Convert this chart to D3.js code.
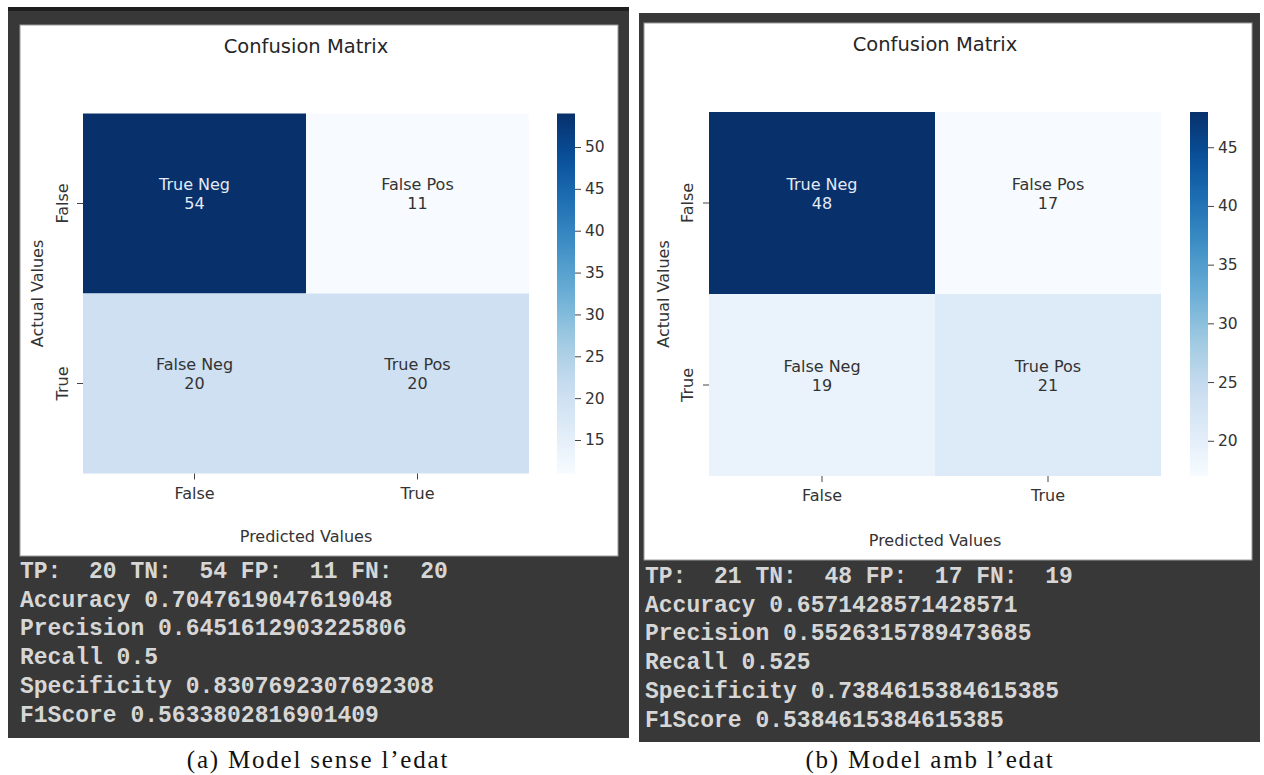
<!DOCTYPE html>
<html>
<head>
<meta charset="utf-8">
<script src="https://cdn.jsdelivr.net/npm/d3@7"></script>
<style>
  html, body { margin: 0; padding: 0; background: #ffffff; }
  svg { display: block; }
  text { font-family: "DejaVu Sans", sans-serif; }
  .mono { font-family: "Liberation Mono", "Courier New", monospace; font-weight: bold; white-space: pre; }
  .cap { font-family: "Liberation Serif", "DejaVu Serif", serif; }
</style>
</head>
<body>
<svg id="fig" width="1264" height="775"></svg>
<script>
// ---- data ----
const classLabels = ["False", "True"];
const cellNames = ["True Neg", "False Pos", "False Neg", "True Pos"];
const countsA = [54, 11, 20, 20];
const countsB = [48, 17, 19, 21];
const cbarTicksA = [15, 20, 25, 30, 35, 40, 45, 50];
const cbarTicksB = [20, 25, 30, 35, 40, 45];
const metricNames = ["Accuracy", "Precision", "Recall", "Specificity", "F1Score"];
const metricsA = ["0.7047619047619048", "0.6451612903225806", "0.5", "0.8307692307692308", "0.5633802816901409"];
const metricsB = ["0.6571428571428571", "0.5526315789473685", "0.525", "0.7384615384615385", "0.5384615384615385"];
const captionA = "(a) Model sense l’edat";
const captionB = "(b) Model amb l’edat";

// matplotlib "Blues" colormap nodes
const bluesNodes = ["#f7fbff", "#deebf7", "#c6dbef", "#9ecae1", "#6baed6", "#4292c6", "#2171b5", "#08519c", "#08306b"];

const svg = d3.select("#fig");
const defs = svg.append("defs");

function drawPanel(cfg) {
  const g = svg.append("g");
  const counts = cfg.counts;
  const vmin = d3.min(counts), vmax = d3.max(counts);

  // notebook output frame
  g.append("rect").attr("x", cfg.frame.x).attr("y", cfg.frame.y)
    .attr("width", cfg.frame.w).attr("height", cfg.frame.h).attr("fill", "#383838");
  if (cfg.topStrip) {
    g.append("rect").attr("x", cfg.frame.x).attr("y", cfg.frame.y)
      .attr("width", cfg.frame.w).attr("height", 4).attr("fill", "#1f1f1f");
  }
  g.append("rect").attr("x", cfg.white.x).attr("y", cfg.white.y)
    .attr("width", cfg.white.w).attr("height", cfg.white.h)
    .attr("fill", "#ffffff").attr("stroke", "#9a9a9a").attr("stroke-width", 1);

  const hm = cfg.heat;
  const x = d3.scaleBand().domain(classLabels).range([hm.x, hm.x + hm.w]);
  const y = d3.scaleBand().domain(classLabels).range([hm.y, hm.y + hm.h]);
  const norm = d3.scaleLinear().domain([vmin, vmax]).range([0, 1]);
  const cmap = d3.scaleLinear()
    .domain(d3.range(bluesNodes.length).map(i => i / (bluesNodes.length - 1)))
    .range(bluesNodes).interpolate(d3.interpolateRgb).clamp(true);
  const color = v => cmap(norm(v));

  const cells = counts.map((v, i) => ({
    v, name: cellNames[i],
    row: classLabels[Math.floor(i / 2)], col: classLabels[i % 2]
  }));

  g.selectAll("rect.cell").data(cells).join("rect")
    .attr("class", "cell")
    .attr("x", d => x(d.col)).attr("y", d => y(d.row))
    .attr("width", x.bandwidth()).attr("height", y.bandwidth())
    .attr("fill", d => color(d.v));

  const lum = c => { const r = d3.rgb(c); const f = u => { u /= 255; return u <= 0.03928 ? u / 12.92 : Math.pow((u + 0.055) / 1.055, 2.4); }; return 0.2126 * f(r.r) + 0.7152 * f(r.g) + 0.0722 * f(r.b); };

  const ann = g.selectAll("g.ann").data(cells).join("g").attr("class", "ann")
    .attr("transform", d => `translate(${x(d.col) + x.bandwidth() / 2},${y(d.row) + y.bandwidth() / 2})`);
  ann.append("text").attr("text-anchor", "middle").attr("dominant-baseline", "central")
    .attr("y", -19).attr("font-size", 16)
    .attr("fill", d => lum(color(d.v)) < 0.408 ? "#e4eaf5" : "#333333")
    .text(d => d.name);
  ann.append("text").attr("text-anchor", "middle").attr("dominant-baseline", "central")
    .attr("y", 0).attr("font-size", 16)
    .attr("fill", d => lum(color(d.v)) < 0.408 ? "#e4eaf5" : "#333333")
    .text(d => d.v);

  // axes
  const xAxis = g.append("g").attr("transform", `translate(0,${hm.y + hm.h})`)
    .call(d3.axisBottom(x).tickSize(6).tickPadding(8));
  xAxis.select(".domain").remove();
  xAxis.selectAll("line").attr("stroke", "#444");
  xAxis.selectAll("text").attr("font-size", 16).attr("fill", "#333")
    .attr("font-family", "DejaVu Sans, sans-serif");

  const yAxis = g.append("g").attr("transform", `translate(${hm.x},0)`)
    .call(d3.axisLeft(y).tickSize(6).tickPadding(8));
  yAxis.select(".domain").remove();
  yAxis.selectAll("line").attr("stroke", "#444");
  yAxis.selectAll("text").attr("font-size", 16).attr("fill", "#333")
    .attr("font-family", "DejaVu Sans, sans-serif")
    .attr("text-anchor", "middle").attr("dy", null).attr("dominant-baseline", "central")
    .attr("x", 0)
    .attr("transform", `translate(${-hm.yTickOff},0) rotate(-90)`);

  // titles
  const cx = hm.x + hm.w / 2;
  g.append("text").attr("x", cx).attr("y", cfg.titleY).attr("text-anchor", "middle")
    .attr("dominant-baseline", "central").attr("font-size", 19.5).attr("fill", "#262626")
    .text("Confusion Matrix");
  g.append("text").attr("x", cx).attr("y", cfg.xLabelY).attr("text-anchor", "middle")
    .attr("dominant-baseline", "central").attr("font-size", 16).attr("fill", "#333")
    .text("Predicted Values");
  g.append("text").attr("transform", `translate(${cfg.yLabelX},${hm.y + hm.h / 2}) rotate(-90)`)
    .attr("text-anchor", "middle").attr("dominant-baseline", "central")
    .attr("font-size", 16).attr("fill", "#333").text("Actual Values");

  // colorbar
  const gradId = "grad" + cfg.id;
  const grad = defs.append("linearGradient").attr("id", gradId)
    .attr("x1", 0).attr("y1", 1).attr("x2", 0).attr("y2", 0);
  d3.range(0, 1.0001, 0.05).forEach(t => {
    grad.append("stop").attr("offset", t).attr("stop-color", cmap(t));
  });
  const cs = d3.scaleLinear().domain([vmin, vmax]).range([hm.y + hm.h, hm.y]);
  g.append("rect").attr("x", cfg.cbarX).attr("y", hm.y).attr("width", 18).attr("height", hm.h)
    .attr("fill", `url(#${gradId})`);
  const cAxis = g.append("g").attr("transform", `translate(${cfg.cbarX + 18},0)`)
    .call(d3.axisRight(cs).tickValues(cfg.cbarTicks).tickSize(6).tickPadding(4));
  cAxis.select(".domain").remove();
  cAxis.selectAll("line").attr("stroke", "#444");
  cAxis.selectAll("text").attr("font-size", 15.5).attr("fill", "#333")
    .attr("font-family", "DejaVu Sans, sans-serif");

  // printed summary below the figure
  const tp = counts[3], tn = counts[0], fp = counts[1], fn = counts[2];
  const pad = n => String(n).padStart(3, " ");
  const lines = [`TP:${pad(tp)} TN:${pad(tn)} FP:${pad(fp)} FN:${pad(fn)}`]
    .map(s => s.replace(/:/g, ": "))
    .concat(metricNames.map((m, i) => `${m} ${cfg.metrics[i]}`));
  g.selectAll("text.mono").data(lines).join("text")
    .attr("class", "mono")
    .attr("x", cfg.textX).attr("y", (d, i) => cfg.textY + i * 28.7)
    .attr("dominant-baseline", "central")
    .attr("font-size", 23).attr("fill", "#d6d6d6")
    .attr("xml:space", "preserve")
    .text(d => d);

  // sub-figure caption
  g.append("text").attr("class", "cap").attr("x", cfg.capX).attr("y", 759)
    .attr("text-anchor", "middle").attr("dominant-baseline", "central")
    .attr("font-size", 25).attr("letter-spacing", 1.8).attr("fill", "#111").text(cfg.caption);
}

drawPanel({
  id: "A", counts: countsA, cbarTicks: cbarTicksA, metrics: metricsA, caption: captionA,
  frame: { x: 8, y: 7, w: 621, h: 731 }, topStrip: true,
  white: { x: 20, y: 25, w: 598, h: 531 },
  heat: { x: 83, y: 113.5, w: 446, h: 360, yTickOff: 21 },
  cbarX: 557, titleY: 46, xLabelY: 536, yLabelX: 37,
  textX: 20, textY: 572, capX: 318
});

drawPanel({
  id: "B", counts: countsB, cbarTicks: cbarTicksB, metrics: metricsB, caption: captionB,
  frame: { x: 639, y: 13, w: 621, h: 729 }, topStrip: false,
  white: { x: 644, y: 23, w: 608, h: 537 },
  heat: { x: 709, y: 112, w: 452, h: 364, yTickOff: 22 },
  cbarX: 1190, titleY: 44, xLabelY: 540, yLabelX: 663,
  textX: 645, textY: 577, capX: 930
});
</script>
</body>
</html>
